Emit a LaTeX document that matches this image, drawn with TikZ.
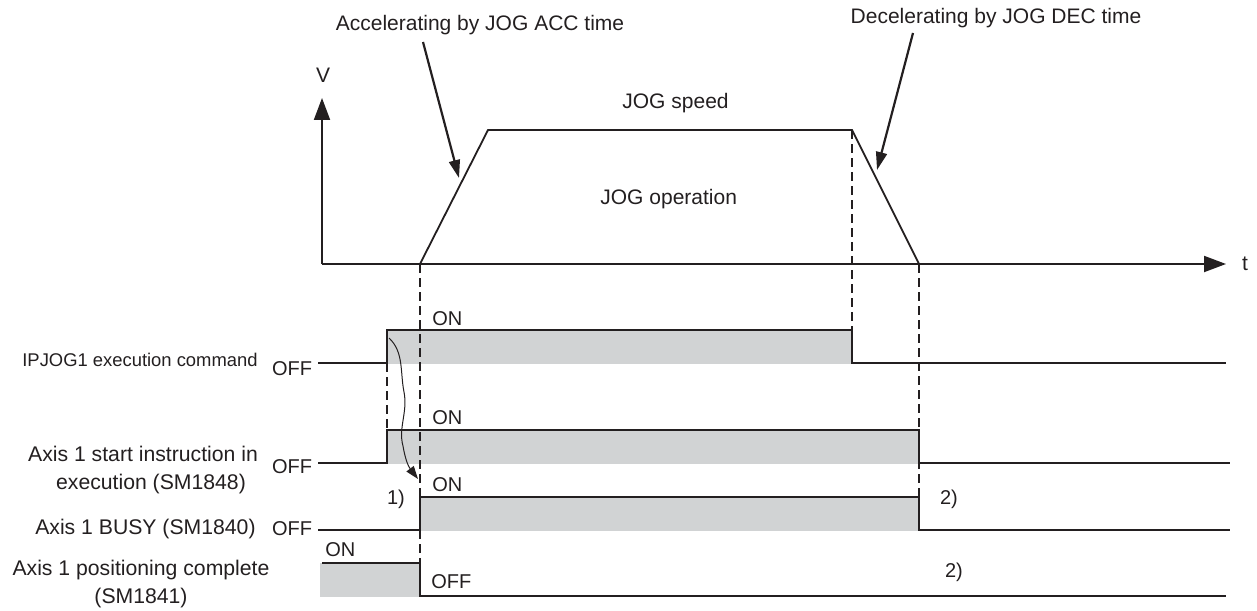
\documentclass[tikz,border=0pt]{standalone}
\usepackage{fontspec}
\setmainfont{Liberation Sans}
\usetikzlibrary{arrows.meta}
\definecolor{sigfill}{HTML}{D1D3D4}
\definecolor{sigdraw}{HTML}{231F20}
\tikzset{
  sigline/.style={line width=0.8pt, draw=sigdraw},
  onblock/.style={fill=sigfill, draw=none},
  axisarr/.style={line width=1pt, draw=sigdraw, -{Triangle[length=11pt, width=8pt]}},
  callarr/.style={line width=1.1pt, draw=sigdraw, -{Triangle[length=9pt, width=5.5pt]}},
  linkarr/.style={line width=0.5pt, draw=sigdraw, -{Triangle[length=6.5pt, width=4.5pt]}},
  guide/.style={line width=0.7pt, draw=sigdraw, dash pattern=on 4.5pt off 2.5pt},
  txt/.style={font=\fontsize{10.5}{12.6}\selectfont, inner sep=0pt, text=sigdraw},
  stlbl/.style={font=\fontsize{10}{12}\selectfont, inner sep=0pt, text=sigdraw},
  siglbl/.style={font=\fontsize{10.6}{12.6}\selectfont, inner sep=0pt, text=sigdraw, align=center},
}

\begin{document}
\begin{tikzpicture}[x=0.5pt, y=-0.5pt]
  \useasboundingbox (0,0) rectangle (1257,610);

  %% Velocity profile
  \coordinate (vorg) at (322,264);
  \coordinate (vtop) at (322,98);
  \coordinate (tend) at (1226,264);
  \coordinate (accst) at (420,264);
  \coordinate (acctop) at (488,130);
  \coordinate (dectop) at (852,130);
  \coordinate (decend) at (919,264);

  \draw[axisarr] (vorg) -- (vtop);
  \draw[axisarr] (vorg) -- (tend);
  \draw[sigline, line width=0.9pt] (accst) -- (acctop) -- (dectop) -- (decend);

  \node[txt] (vlab) at (323,75) {V};
  \node[txt] (tlab) at (1245,264) {t};
  \node[txt, anchor=west] (speed) at (622,103) {JOG speed};
  \node[txt, anchor=west] (oper) at (600,199) {JOG operation};

  %% Callouts
  \node[txt] (acc) at (480,25) {Accelerating by JOG ACC time};
  \node[txt] (dec) at (996,18) {Decelerating by JOG DEC time};
  \coordinate (accfrom) at (423,42);
  \coordinate (accto) at (459,178);
  \coordinate (decfrom) at (913,33);
  \coordinate (decto) at (877,170);
  \draw[callarr] (accfrom) -- (accto);
  \draw[callarr] (decfrom) -- (decto);

  %% Signal blocks
  \fill[onblock] (387,330) rectangle (852,364);
  \fill[onblock] (387,430) rectangle (919,464);
  \fill[onblock] (420,497) rectangle (919,531);
  \fill[onblock] (320,563) rectangle (420,597);

  %% Signal lines
  \draw[sigline] (318,363) -- (387,363) -- (387,330) -- (852,330) -- (852,363) -- (1226,363);
  \draw[sigline] (318,463) -- (387,463) -- (387,430) -- (919,430) -- (919,463) -- (1230,463);
  \draw[sigline] (318,530) -- (420,530) -- (420,497) -- (919,497) -- (919,530) -- (1230,530);
  \draw[sigline] (322,563) -- (420,563) -- (420,596) -- (1226,596);

  %% Timing guides
  \draw[guide] (387,363) -- (387,430);
  \draw[guide] (accst) -- (420,596);
  \draw[guide] (dectop) -- (852,330);
  \draw[guide] (decend) -- (919,497);

  %% Start -> in execution
  \coordinate (lnkfrom) at (389,338);
  \coordinate (lnkto) at (418,479);
  \draw[linkarr] (lnkfrom) .. controls (404,352) and (400,372) .. (404,392)
    .. controls (408,412) and (398,428) .. (403,446)
    .. controls (405,458) and (408,466) .. (lnkto);

  %% Signal names
  \node[siglbl, anchor=east, font=\fontsize{9.2}{11}\selectfont] (cmd) at (258,360) {IPJOG1 execution command};
  \node[siglbl] (exe) at (143,470) {Axis 1 start instruction in\\[1pt]\hspace*{8pt}execution (SM1848)};
  \node[siglbl, anchor=east] (busy) at (256,529) {Axis 1 BUSY (SM1840)};
  \node[siglbl] (cmpl) at (141,584) {Axis 1 positioning complete\\[1pt](SM1841)};

  %% ON / OFF states
  \node[stlbl] (cmdoff) at (292,369) {OFF};
  \node[stlbl] (exeoff) at (292,467) {OFF};
  \node[stlbl] (busyoff) at (292,529) {OFF};
  \node[stlbl, anchor=west] (cmdon) at (432,319) {ON};
  \node[stlbl, anchor=west] (exeon) at (432,418) {ON};
  \node[stlbl, anchor=west] (busyon) at (432,485) {ON};
  \node[stlbl, anchor=west] (cmplon) at (325,550) {ON};
  \node[stlbl, anchor=west] (cmploff) at (431,582) {OFF};

  %% Notes
  \node[stlbl] (note1) at (396,499) {1)};
  \node[stlbl] (note2a) at (949,499) {2)};
  \node[stlbl] (note2b) at (954,572) {2)};

\end{tikzpicture}
\end{document}
